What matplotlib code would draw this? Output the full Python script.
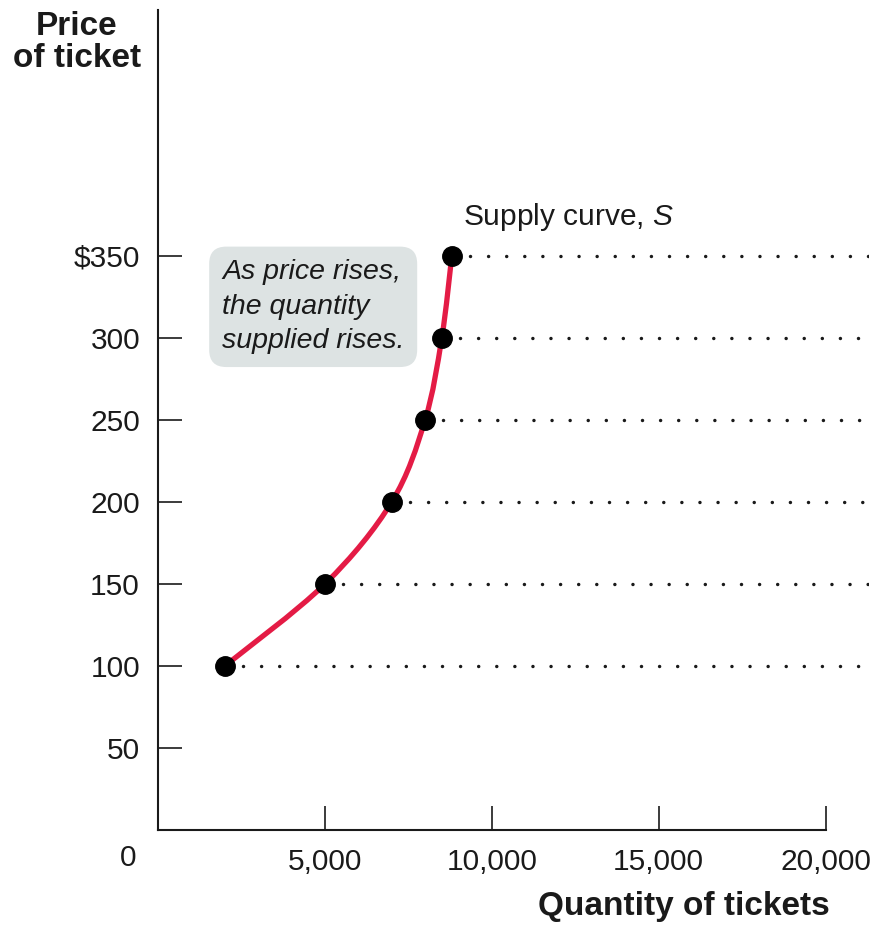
import matplotlib
matplotlib.use("Agg")
import matplotlib.pyplot as plt
from matplotlib.path import Path
from matplotlib.patches import PathPatch

plt.rcParams["font.family"] = ["Liberation Sans", "DejaVu Sans"]
plt.rcParams["mathtext.fontset"] = "custom"
plt.rcParams["mathtext.it"] = "Liberation Sans:italic"
plt.rcParams["mathtext.rm"] = "Liberation Sans"

# supply schedule
quantity = [2000, 5000, 7000, 8000, 8500, 8800]
price = [100, 150, 200, 250, 300, 350]

y_ticks = [50, 100, 150, 200, 250, 300, 350]
y_labels = ["50", "100", "150", "200", "250", "300", "$350"]
x_ticks = [5000, 10000, 15000, 20000]
x_labels = ["5,000", "10,000", "15,000", "20,000"]

RED = "#e41b45"
INK = "#1a1a1a"

fig = plt.figure(figsize=(8.78, 9.26), dpi=100)
ax = fig.add_axes([0.1800, 0.1037, 0.8098, 0.8855])
ax.set_xlim(0, 21300)
ax.set_ylim(0, 500)

for side in ("top", "right"):
    ax.spines[side].set_visible(False)
for side in ("left", "bottom"):
    ax.spines[side].set_linewidth(1.5)
    ax.spines[side].set_color(INK)
ax.spines["bottom"].set_bounds(0, 20000)

ax.set_xticks(x_ticks)
ax.set_xticklabels(x_labels)
ax.set_yticks(y_ticks)
ax.set_yticklabels(y_labels)
ax.tick_params(direction="in", length=17.5, width=1.2, color=INK,
               labelsize=21.5, labelcolor=INK, pad=13)

# dotted guides to the right of each point
for q, p in zip(quantity, price):
    ax.plot([q + 550, 21300], [p, p], color=INK, lw=2.5,
            linestyle=(0, (0.01, 5.2)), dash_capstyle="round", zorder=2)

# smooth curve through the points (Catmull-Rom -> cubic Bezier)
pts = list(zip(quantity, price))
verts = [pts[0]]
codes = [Path.MOVETO]
for i in range(len(pts) - 1):
    p0 = pts[i - 1] if i > 0 else pts[i]
    p1 = pts[i]
    p2 = pts[i + 1]
    p3 = pts[i + 2] if i + 2 < len(pts) else pts[i + 1]
    c1 = (p1[0] + (p2[0] - p0[0]) / 6, p1[1] + (p2[1] - p0[1]) / 6)
    c2 = (p2[0] - (p3[0] - p1[0]) / 6, p2[1] - (p3[1] - p1[1]) / 6)
    verts += [c1, c2, p2]
    codes += [Path.CURVE4] * 3
ax.add_patch(PathPatch(Path(verts, codes), fc="none", ec=RED, lw=3.8,
                       capstyle="round", zorder=3))

ax.plot(quantity, price, "o", color="black", markersize=14, zorder=4)

ax.annotate("Supply curve, $S$", (quantity[-1], price[-1]),
            xytext=(8, 28), textcoords="offset points",
            ha="left", va="center", fontsize=21.5, color=INK)

ax.text(1916, 319, "As price rises,\nthe quantity\nsupplied rises.",
        ha="left", va="center", fontsize=20.5, style="italic", color=INK,
        linespacing=1.42,
        bbox=dict(boxstyle="round,pad=0.45,rounding_size=0.6",
                  fc="#dde3e3", ec="none"), zorder=5)

# origin label and axis titles
fig.text(128 / 878, 1 - 858 / 926, "0", ha="center", va="center",
         fontsize=21.5, color=INK)
fig.text(77 / 878, 1 - 11 / 926, "Price\nof ticket", ha="center", va="top",
         fontsize=24, fontweight="bold", color=INK, linespacing=1.05)
fig.text(830 / 878, 1 - 907 / 926, "Quantity of tickets", ha="right",
         va="center", fontsize=24, fontweight="bold", color=INK)

fig.savefig("out.png", dpi=100)
